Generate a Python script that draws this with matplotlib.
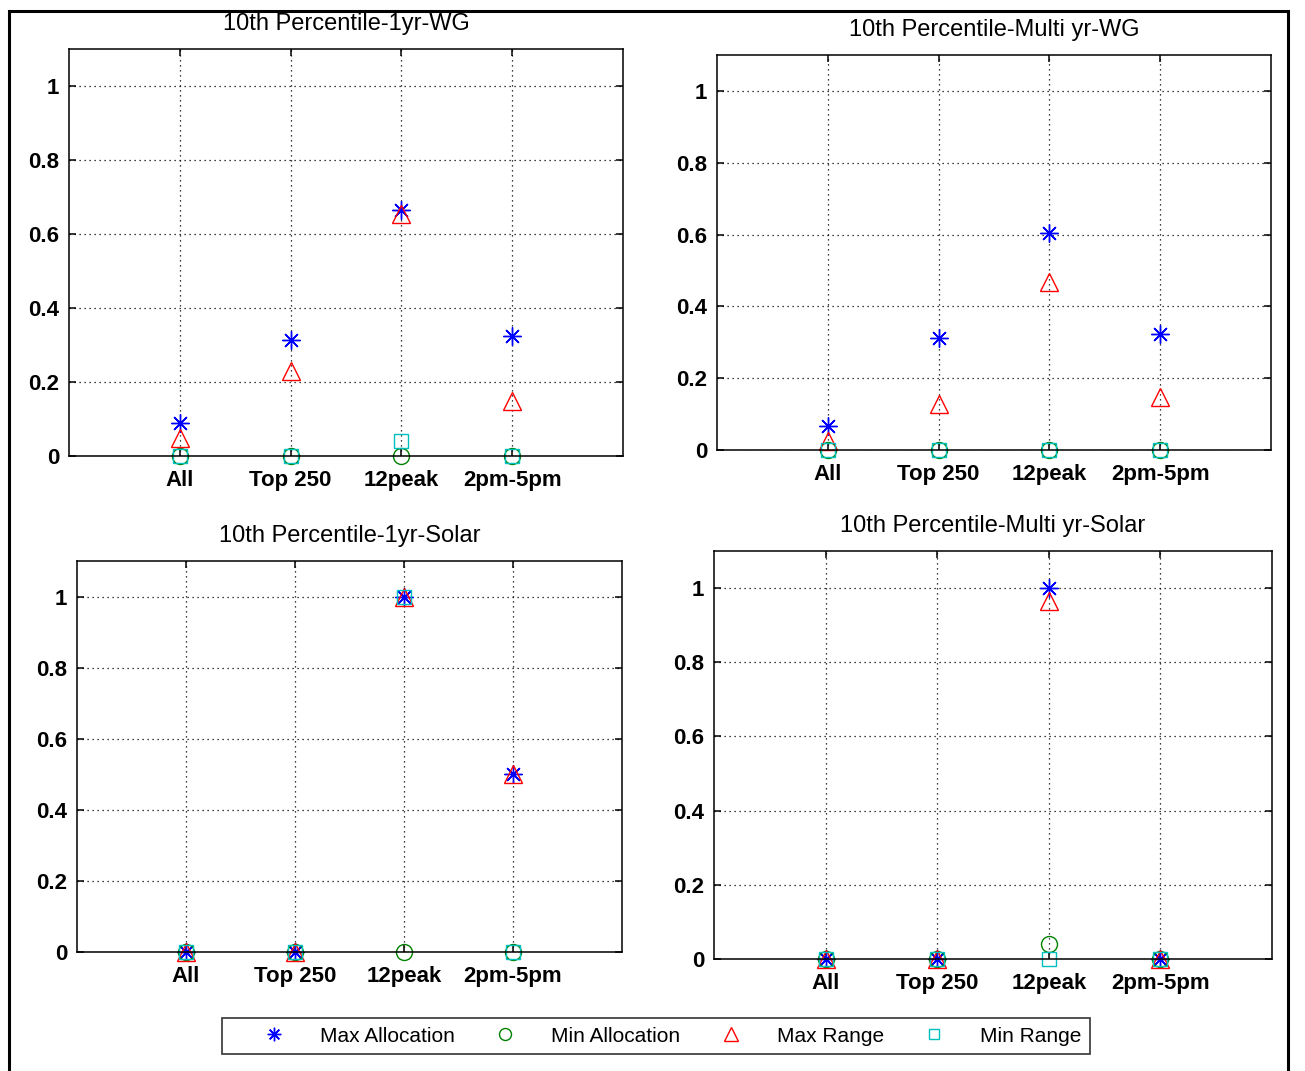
import matplotlib.pyplot as plt
from matplotlib.patches import Rectangle

plt.rcParams['font.family'] = ['Liberation Sans', 'DejaVu Sans']

# Categories on the x axis
categories = ["All", "Top 250", "12peak", "2pm-5pm"]
series_names = ["Max Allocation", "Min Allocation", "Max Range", "Min Range"]

# 10th Percentile-1yr-WG
max_alloc_1yr_wg = [0.088, 0.313, 0.665, 0.324]
min_alloc_1yr_wg = [0.0, 0.0, 0.0, 0.0]
max_range_1yr_wg = [0.05, 0.23, 0.655, 0.148]
min_range_1yr_wg = [0.0, 0.0, 0.04, 0.0]

# 10th Percentile-Multi yr-WG
max_alloc_multi_wg = [0.068, 0.312, 0.603, 0.322]
min_alloc_multi_wg = [0.0, 0.0, 0.0, 0.0]
max_range_multi_wg = [0.025, 0.128, 0.467, 0.147]
min_range_multi_wg = [0.0, 0.0, 0.0, 0.0]

# 10th Percentile-1yr-Solar
max_alloc_1yr_solar = [0.0, 0.0, 1.0, 0.5]
min_alloc_1yr_solar = [0.0, 0.0, 0.0, 0.0]
max_range_1yr_solar = [0.0, 0.0, 1.0, 0.5]
min_range_1yr_solar = [0.0, 0.0, 1.0, 0.0]

# 10th Percentile-Multi yr-Solar
max_alloc_multi_solar = [0.0, 0.0, 1.0, 0.0]
min_alloc_multi_solar = [0.0, 0.0, 0.04, 0.0]
max_range_multi_solar = [0.0, 0.0, 0.965, 0.0]
min_range_multi_solar = [0.0, 0.0, 0.0, 0.0]

titles = ["10th Percentile-1yr-WG", "10th Percentile-Multi yr-WG",
          "10th Percentile-1yr-Solar", "10th Percentile-Multi yr-Solar"]

panels = [
    [max_alloc_1yr_wg, min_alloc_1yr_wg, max_range_1yr_wg, min_range_1yr_wg],
    [max_alloc_multi_wg, min_alloc_multi_wg, max_range_multi_wg, min_range_multi_wg],
    [max_alloc_1yr_solar, min_alloc_1yr_solar, max_range_1yr_solar, min_range_1yr_solar],
    [max_alloc_multi_solar, min_alloc_multi_solar, max_range_multi_solar, min_range_multi_solar],
]

# marker styles (matlab-like)
styles = [
    dict(marker=(8, 2, 0), color="#0000ff", markersize=13, markeredgewidth=1.0),
    dict(marker="o", color="#008000", markerfacecolor="none", markersize=11.5, markeredgewidth=1.0),
    dict(marker="^", color="#ff0000", markerfacecolor="none", markersize=12.5, markeredgewidth=1.0),
    dict(marker="s", color="#00bfbf", markerfacecolor="none", markersize=10, markeredgewidth=1.0),
]

W, H = 1305, 1071
fig = plt.figure(figsize=(W / 100, H / 100), dpi=100)

# axes boxes in pixels: left, top, right, bottom
boxes = [(69, 49, 623, 456), (717, 55, 1271, 450),
         (77, 561, 622, 952), (714, 551, 1272, 959)]

x = list(range(1, len(categories) + 1))
handles = []
for i, (l, t, r, b) in enumerate(boxes):
    ax = fig.add_axes([l / W, 1 - b / H, (r - l) / W, (b - t) / H])
    for j, vals in enumerate(panels[i]):
        h, = ax.plot(x, vals, linestyle="none", clip_on=False, label=series_names[j], **styles[j])
        if i == 0:
            handles.append(h)
    ax.set_xlim(0, 5)
    ax.set_ylim(0, 1.1)
    ax.set_xticks(x)
    ax.set_xticklabels(categories, fontsize=16, fontweight="bold")
    ax.set_yticks([0, 0.2, 0.4, 0.6, 0.8, 1.0])
    ax.set_yticklabels(["0", "0.2", "0.4", "0.6", "0.8", "1"], fontsize=16, fontweight="bold")
    ax.tick_params(direction="in", top=True, right=True, length=5, width=1.1, pad=7)
    ax.tick_params(axis="x", pad=10)
    ax.grid(True, color="black", linestyle=(0, (1, 3)), linewidth=0.9)
    for sp in ax.spines.values():
        sp.set_linewidth(1.1)
    ax.set_title(titles[i], fontsize=17, pad=14)

leg = fig.legend(handles=handles, loc="center", ncol=4, mode="expand",
                 bbox_to_anchor=(222 / W, 1 - 1058 / H, 868 / W, 44 / H),
                 fontsize=15, frameon=True, fancybox=False, edgecolor="black",
                 handlelength=4.2, handletextpad=0.1, borderaxespad=0,
                 markerscale=0.75)
leg.get_frame().set_linewidth(1.2)

# outer border
fig.patches.append(Rectangle((9 / W, -0.01), 1279 / W, (H - 11) / H + 0.01,
                             transform=fig.transFigure, fill=False,
                             edgecolor="black", linewidth=2.2))

plt.savefig("out.png", dpi=100)
